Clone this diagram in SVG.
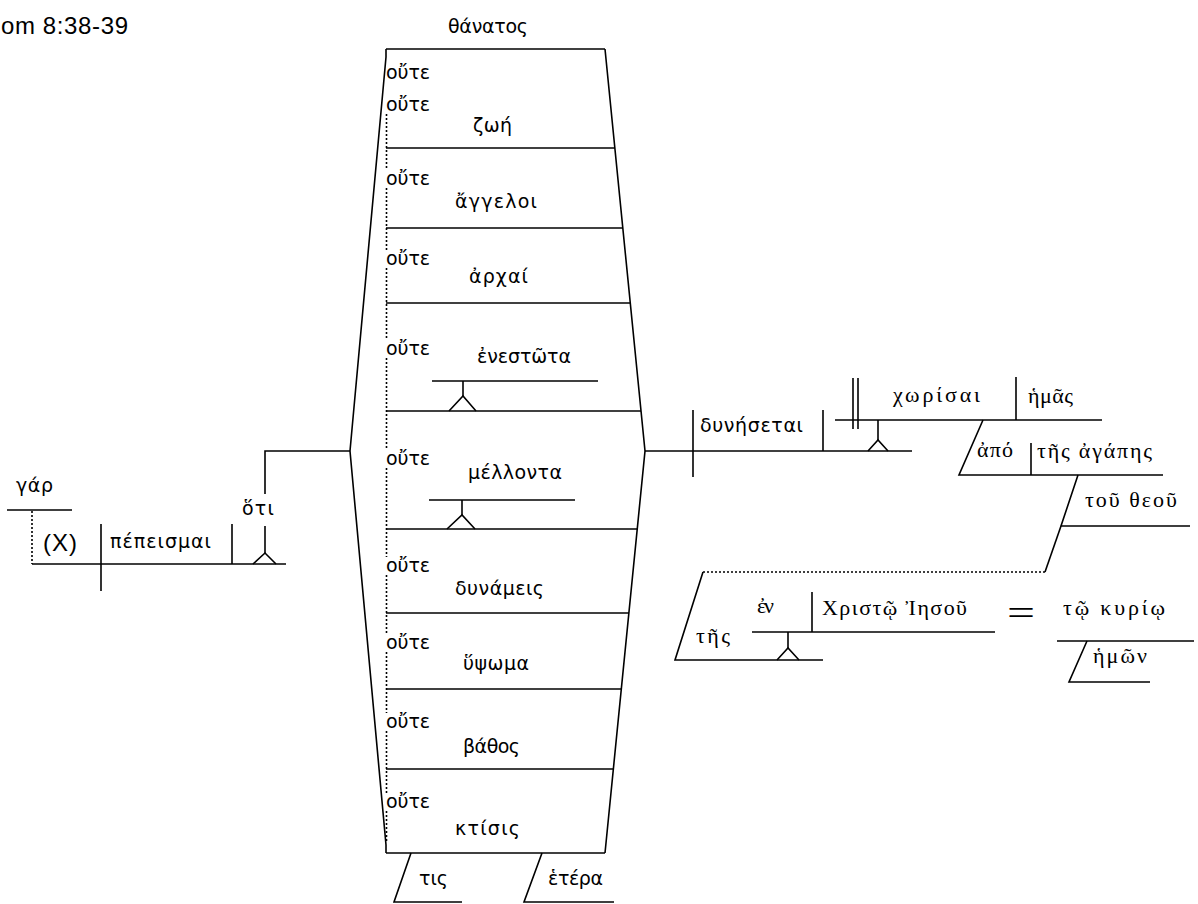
<svg xmlns="http://www.w3.org/2000/svg" width="1198" height="904" viewBox="0 0 1198 904">
<style>
.l{stroke:#000;stroke-width:1.6;fill:none}
.d{stroke:#000;stroke-width:1.6;fill:none;stroke-dasharray:2 2}
.s{font-family:"DejaVu Sans","Noto Sans",sans-serif;font-size:19px;fill:#000}
.r{font-family:"Liberation Serif","DejaVu Serif",serif;font-size:22px;fill:#000}
.a{font-family:"Liberation Sans",Arial,sans-serif;font-size:22px;fill:#000}
</style>
<rect width="1198" height="904" fill="#fff"/>
<g id="title"><text class="a" x="1" y="34" style="font-size:24px" textLength="127">om 8:38-39</text></g>

<g id="main-clause">
<line class="l" x1="7" y1="510" x2="72" y2="510"/>
<text class="s" x="16" y="492" textLength="37">γάρ</text>
<line class="l" x1="32" y1="564" x2="286" y2="564"/>
<line class="l" x1="101" y1="524" x2="101" y2="591"/>
<line class="l" x1="232" y1="524" x2="232" y2="564"/>
<text class="a" x="43" y="551" style="font-size:24px" textLength="34">(X)</text>
<text class="s" x="110" y="548" textLength="101">πέπεισμαι</text>
<text class="s" x="242" y="515" textLength="32">ὅτι</text>
<polyline class="l" points="265,526 265,553"/>
<polyline class="l" points="253,564 265,553 276,564"/>
</g>

<g id="subject-box">
<line class="l" x1="386" y1="49" x2="605" y2="49"/>
<polyline class="l" points="386,49 386,57 350,451 386,845 386,853"/>
<polyline class="l" points="605,49 645,451 605,853"/>
<line class="l" x1="386" y1="853" x2="605" y2="853"/>
<text class="s" x="448" y="33" textLength="80">θάνατος</text>
</g>

<g id="item-zoe">
<text class="s" x="386" y="79" textLength="44">οὔτε</text>
<text class="s" x="386" y="111" textLength="44">οὔτε</text>
<text class="s" x="473" y="132" textLength="39">ζωή</text>
<line class="l" x1="386" y1="148" x2="615" y2="148"/>
</g>
<g id="item-angeloi">
<text class="s" x="386" y="185" textLength="44">οὔτε</text>
<text class="s" x="455" y="208" textLength="82">ἄγγελοι</text>
<line class="l" x1="386" y1="228" x2="623" y2="228"/>
</g>
<g id="item-archai">
<text class="s" x="386" y="265" textLength="44">οὔτε</text>
<text class="s" x="469" y="283" textLength="59">ἀρχαί</text>
<line class="l" x1="386" y1="303" x2="630" y2="303"/>
</g>
<g id="item-enestota">
<text class="s" x="386" y="355" textLength="44">οὔτε</text>
<text class="s" x="477" y="363" textLength="94">ἐνεστῶτα</text>
<line class="l" x1="432" y1="381" x2="598" y2="381"/>
<line class="l" x1="463" y1="381" x2="463" y2="396"/>
<polyline class="l" points="449,411 463,396 476,411"/>
<line class="l" x1="386" y1="411" x2="641" y2="411"/>
</g>
<g id="item-mellonta">
<text class="s" x="386" y="465" textLength="44">οὔτε</text>
<text class="s" x="468" y="479" textLength="94">μέλλοντα</text>
<line class="l" x1="429" y1="500" x2="575" y2="500"/>
<line class="l" x1="462" y1="500" x2="462" y2="515"/>
<polyline class="l" points="447,529 462,515 475,529"/>
<line class="l" x1="386" y1="529" x2="637" y2="529"/>
</g>
<g id="item-dynameis">
<text class="s" x="386" y="572" textLength="44">οὔτε</text>
<text class="s" x="455" y="595" textLength="89">δυνάμεις</text>
<line class="l" x1="386" y1="613" x2="629" y2="613"/>
</g>
<g id="item-hypsoma">
<text class="s" x="386" y="649" textLength="44">οὔτε</text>
<text class="s" x="463" y="670" textLength="66">ὕψωμα</text>
<line class="l" x1="386" y1="689" x2="621" y2="689"/>
</g>
<g id="item-bathos">
<text class="s" x="386" y="728" textLength="44">οὔτε</text>
<text class="s" x="463" y="753" textLength="57">βάθος</text>
<line class="l" x1="386" y1="769" x2="613" y2="769"/>
</g>
<g id="item-ktisis">
<text class="s" x="386" y="808" textLength="44">οὔτε</text>
<text class="s" x="455" y="835" textLength="65">κτίσις</text>
</g>
<g id="mod-tis">
<polyline class="l" points="411,853 394,902 462,902"/>
<text class="s" x="419" y="885" textLength="29">τις</text>
</g>
<g id="mod-hetera">
<polyline class="l" points="542,853 524,902 614,902"/>
<text class="s" x="548" y="885" textLength="55">ἑτέρα</text>
</g>

<g id="predicate">
<line class="l" x1="645" y1="451" x2="912" y2="451"/>
<line class="l" x1="693" y1="410" x2="693" y2="477"/>
<line class="l" x1="823" y1="410" x2="823" y2="451"/>
<text class="s" x="700" y="432" textLength="103">δυνήσεται</text>
<line class="l" x1="878" y1="420" x2="878" y2="440"/>
<polyline class="l" points="868,451 878,440 888,451"/>
</g>

<g id="infinitive">
<line class="l" x1="835" y1="420" x2="1102" y2="420"/>
<line class="l" x1="853" y1="378" x2="853" y2="429"/>
<line class="l" x1="858" y1="378" x2="858" y2="429"/>
<line class="l" x1="1016" y1="377" x2="1016" y2="420"/>
<text class="r" x="893" y="402" textLength="87">χωρίσαι</text>
<text class="r" x="1028" y="403" textLength="45">ἡμᾶς</text>
</g>

<g id="prep-apo">
<polyline class="l" points="983,420 959,475 1163,475"/>
<line class="l" x1="1031" y1="443" x2="1031" y2="475"/>
<text class="r" x="977" y="457" textLength="36">ἀπό</text>
<text class="r" x="1037" y="458" textLength="115">τῆς ἀγάπης</text>
</g>

<g id="mod-tou-theou">
<polyline class="l" points="1078,475 1061,526 1190,526"/>
<text class="r" x="1085" y="507" textLength="92">τοῦ θεοῦ</text>
</g>

<g id="mod-tes">
<polyline class="l" points="703,572 675,660 823,660"/>
<text class="r" x="696" y="643" textLength="34">τῆς</text>
</g>

<g id="prep-en">
<line class="l" x1="752" y1="632" x2="995" y2="632"/>
<line class="l" x1="812" y1="592" x2="812" y2="632"/>
<line class="l" x1="788" y1="632" x2="788" y2="648"/>
<polyline class="l" points="777,660 788,648 799,660"/>
<text class="r" x="757" y="613" textLength="17">ἐν</text>
<text class="r" x="822" y="615" textLength="145">Χριστῷ Ἰησοῦ</text>
</g>

<g id="apposition">
<text class="r" x="1007" y="625" style="font-size:36px" textLength="28" lengthAdjust="spacingAndGlyphs">=</text>
</g>

<g id="kyrio">
<line class="l" x1="1057" y1="641" x2="1194" y2="641"/>
<text class="r" x="1063" y="615" textLength="102">τῷ κυρίῳ</text>
</g>
<g id="mod-hemon">
<polyline class="l" points="1087,641 1069,682 1150,682"/>
<text class="r" x="1093" y="663" textLength="54">ἡμῶν</text>
</g>

<g id="connectors">
<line class="d" x1="32" y1="511" x2="32" y2="564"/>
<polyline class="l" points="265,494 265,451 350,451"/>
<line class="d" x1="386.5" y1="114" x2="386.5" y2="170"/>
<line class="d" x1="386.5" y1="188" x2="386.5" y2="250"/>
<line class="d" x1="386.5" y1="268" x2="386.5" y2="340"/>
<line class="d" x1="386.5" y1="358" x2="386.5" y2="450"/>
<line class="d" x1="386.5" y1="468" x2="386.5" y2="557"/>
<line class="d" x1="386.5" y1="575" x2="386.5" y2="634"/>
<line class="d" x1="386.5" y1="652" x2="386.5" y2="713"/>
<line class="d" x1="386.5" y1="731" x2="386.5" y2="793"/>
<line class="d" x1="386.5" y1="811" x2="386.5" y2="843"/>
<line class="l" x1="1061" y1="526" x2="1045" y2="572"/>
<line class="d" x1="1045" y1="572" x2="703" y2="572"/>
</g>
</svg>
